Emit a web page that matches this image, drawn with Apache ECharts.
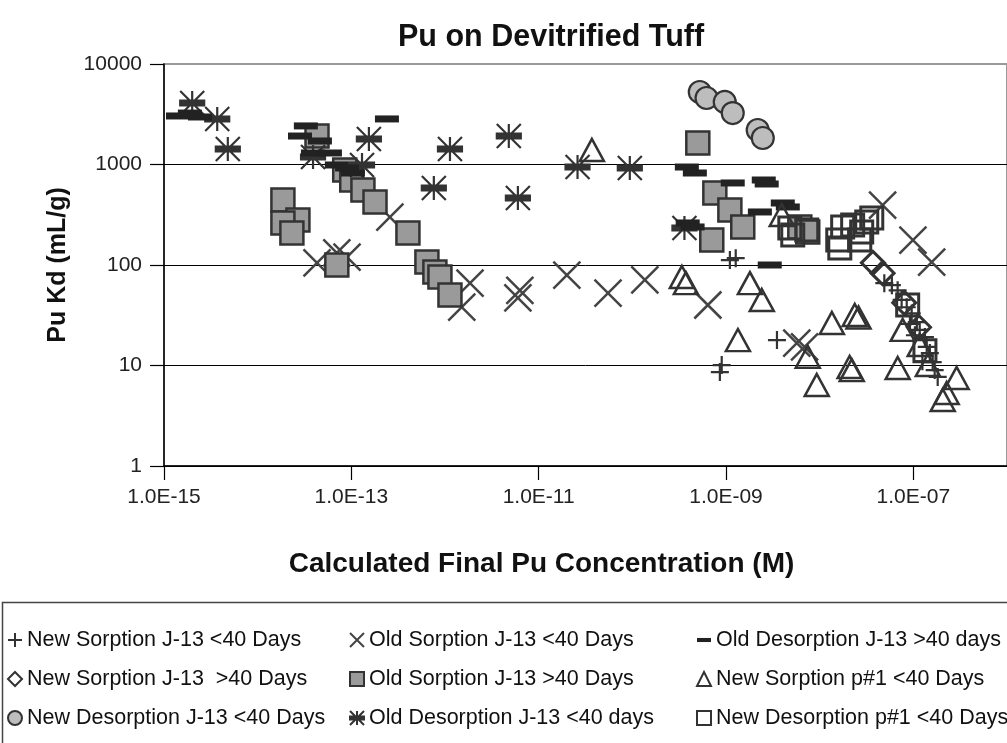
<!DOCTYPE html>
<html><head><meta charset="utf-8">
<script src="https://cdn.jsdelivr.net/npm/echarts@6/dist/echarts.min.js"></script>
<style>html,body{margin:0;padding:0;background:#fff}#c{width:1007px;height:743px}</style>
</head><body><div id="c"></div>
<script>
// ---- tick labels ----
const xTickLabels = ['1.0E-15', '1.0E-13', '1.0E-11', '1.0E-09', '1.0E-07'];
const yTickLabels = ['1', '10', '100', '1000', '10000'];

// ---- series names ----
const seriesNames = [
  'New Sorption J-13 <40 Days',
  'New Sorption J-13  >40 Days',
  'New Desorption J-13 <40 Days',
  'Old Sorption J-13 <40 Days',
  'Old Sorption J-13 >40 Days',
  'Old Desorption J-13 <40 days',
  'Old Desorption J-13 >40 days',
  'New Sorption p#1 <40 Days',
  'New Desorption p#1 <40 Days'
];

// ---- data [concentration M, Kd mL/g] ----
const newSorpJ13Lt40 = [[1.10e-9,112],[1.27e-9,117],[9.0e-10,10.1],[8.6e-10,8.6],[3.5e-9,17.9],[4.9e-8,66],[5.9e-8,63],[6.8e-8,56],[7.5e-8,45],[8.5e-8,38],[9.2e-8,26],[9.6e-8,33],[1.04e-7,20],[1.09e-7,27],[1.17e-7,22.6],[1.25e-7,11],[1.33e-7,19.2],[1.39e-7,15.3],[1.5e-7,13.3],[1.61e-7,10.8],[1.69e-7,9.0],[1.82e-7,7.7]];
const newSorpJ13Gt40 = [[3.7e-8,105],[4.7e-8,83],[8.0e-8,42],[1.15e-7,24]];
const newDesorpJ13Lt40 = [[5.25e-10,5265],[6.2e-10,4590],[9.7e-10,4190],[1.18e-9,3250],[2.18e-9,2205],[2.47e-9,1835]];
const oldSorpJ13Lt40 = [[4.3e-14,105],[7.0e-14,132],[9.0e-14,120],[2.58e-13,300],[1.85e-12,66],[1.51e-12,38],[6.3e-12,56],[6.0e-12,47],[2.0e-11,79.5],[5.5e-11,52.6],[1.36e-10,71],[6.4e-10,40],[4.7e-8,395],[9.9e-8,177],[1.57e-7,107],[5.7e-9,16.7],[6.9e-9,15.3]];
const oldSorpJ13Gt40 = [[1.86e-14,443],[2.69e-14,281],[1.86e-14,262],[2.32e-14,208],[7.0e-14,100],[4.3e-14,1920],[8.5e-14,880],[1.01e-13,701],[1.33e-13,558],[1.79e-13,424],[4.02e-13,208],[6.41e-13,107],[7.8e-13,85],[8.83e-13,76],[1.13e-12,50.3],[5.0e-10,1637],[7.6e-10,521],[1.1e-9,353],[1.51e-9,239],[7.05e-10,177],[6.14e-9,239],[7.46e-9,213]];
const oldDesorpJ13Lt40 = [[2.0e-15,4090],[3.7e-15,2840],[4.8e-15,1426],[3.9e-14,1188],[1.54e-13,1795],[1.30e-13,989],[1.13e-12,1426],[7.6e-13,584],[4.8e-12,1920],[6.0e-12,464],[2.6e-11,944],[9.4e-11,923],[3.6e-10,233]];
const oldDesorpJ13Gt40 = [[1.41e-15,3040],[1.89e-15,3250],[2.42e-15,2970],[2.4e-13,2840],[3.27e-14,2420],[2.83e-14,1920],[4.62e-14,1714],[3.89e-14,1302],[5.91e-14,1302],[7.0e-14,989],[9.0e-14,923],[1.04e-13,823],[3.82e-10,944],[4.65e-10,823],[1.18e-9,655],[2.53e-9,701],[2.72e-9,640],[4.04e-9,414],[4.57e-9,378],[2.3e-9,337],[3.9e-10,262],[4.4e-10,239],[2.93e-9,100]];
const newSorpP1Lt40 = [[3.7e-11,1394],[3.38e-10,76],[3.73e-10,66],[1.8e-9,66],[2.41e-9,44.8],[1.34e-9,17.9],[3.94e-9,314],[7.46e-9,12.2],[9.31e-9,6.4],[1.35e-8,26.5],[2.37e-8,31.8],[2.6e-8,30],[2.09e-8,9.66],[2.2e-8,9.0],[6.81e-8,9.44],[7.7e-8,22.6],[1.17e-7,16],[1.43e-7,10.1],[2.06e-7,4.54],[2.27e-7,5.33],[2.9e-7,7.51]];
const newDesorpP1Lt40 = [[4.8e-9,233],[5.16e-9,199],[7.28e-9,223],[1.56e-8,177],[1.64e-8,148],[1.76e-8,239],[2.25e-8,250],[2.68e-8,177],[2.81e-8,213],[3.18e-8,268],[3.6e-8,294],[8.7e-8,40],[1.33e-7,14]];

const FONT = 'Arial, "Liberation Sans", Helvetica, sans-serif';
const plusPath = 'path://M10 0L10 20M0 10L20 10';
const xPath = 'path://M0 0L20 20M20 0L0 20';
const starPath = 'path://M0 0L20 20M20 0L0 20M10 0L10 20M0 8L20 8L20 12L0 12Z';
const dashIcon = 'path://M0 0L24 0L24 7L0 7Z';

function mk(name, data, symbol, size, style) {
  return { name, type: 'scatter', xAxisIndex: 0, yAxisIndex: 0, data, symbol, symbolSize: size,
    symbolKeepAspect: true, itemStyle: Object.assign({ opacity: 1 }, style), emphasis: { disabled: true } };
}

const chart = echarts.init(document.getElementById('c'), null, { renderer: 'canvas' });
const legendText = { fontFamily: FONT, fontSize: 21.5, color: '#111', lineHeight: 24 };
const legendBase = { orient: 'vertical', top: 628, itemGap: 15, itemWidth: 14, itemHeight: 14, textStyle: legendText, selectedMode: false, padding: 0, symbolKeepAspect: true };

chart.setOption({
  animation: false,
  backgroundColor: '#fff',
  title: { text: 'Pu on Devitrified Tuff', left: 393, top: 17,
    textStyle: { fontFamily: FONT, fontSize: 30.5, fontWeight: 'bold', color: '#111' } },
  grid: { left: 164, right: 0, top: 64, bottom: 277, show: true, borderColor: '#999', borderWidth: 2 },
  xAxis: [
    { type: 'log', logBase: 10, min: 1e-15, max: 1e-6,
      axisLine: { show: false }, axisTick: { show: false }, axisLabel: { show: false }, splitLine: { show: false } },
    { type: 'value', min: 0, max: 9, interval: 2, position: 'bottom',
      axisLine: { show: true, onZero: false, lineStyle: { color: '#000', width: 1.5 } },
      axisTick: { show: true, length: 14, lineStyle: { color: '#000', width: 1.2 } },
      axisLabel: { formatter: v => (xTickLabels[v / 2] !== undefined ? xTickLabels[v / 2] : ''), showMaxLabel: false,
        margin: 21, fontSize: 21, color: '#222', fontFamily: FONT },
      splitLine: { show: false },
      name: 'Calculated Final Pu Concentration (M)', nameLocation: 'middle', nameGap: 84,
      nameTextStyle: { fontFamily: FONT, fontSize: 28, fontWeight: 'bold', color: '#111', padding: [0, 88, 0, 0] } }
  ],
  yAxis: { type: 'log', logBase: 10, min: 1, max: 10000, interval: 1,
    axisLine: { show: true, lineStyle: { color: '#000', width: 1.5 } },
    axisTick: { show: true, length: 14, lineStyle: { color: '#000', width: 1.2 } },
    axisLabel: { formatter: v => yTickLabels[Math.round(Math.log10(v))], margin: 22, fontSize: 21, color: '#222', fontFamily: FONT },
    splitLine: { show: true, lineStyle: { color: ['#000', '#000', '#000', '#000', '#999'], width: 1 } },
    name: 'Pu Kd (mL/g)', nameLocation: 'middle', nameGap: 93,
    nameTextStyle: { fontFamily: FONT, fontSize: 25, fontWeight: 'bold', color: '#111' } },
  legend: [
    Object.assign({ left: 7, data: [seriesNames[0], seriesNames[1], seriesNames[2]] }, legendBase),
    Object.assign({ left: 349, data: [seriesNames[3], seriesNames[4], seriesNames[5]] }, legendBase),
    Object.assign({ left: 696, data: [{ name: seriesNames[6], icon: dashIcon }, seriesNames[7], seriesNames[8]] }, legendBase)
  ],
  graphic: [{ type: 'rect', left: 0, top: 600, z: 0, silent: true,
    shape: { width: 1040, height: 200 }, style: { fill: 'none', stroke: '#444', lineWidth: 1.5 } }],
  series: [
    mk(seriesNames[0], newSorpJ13Lt40, plusPath, 18, { color: 'transparent', borderColor: '#333', borderWidth: 2.2 }),
    mk(seriesNames[1], newSorpJ13Gt40, 'diamond', 23, { color: 'transparent', borderColor: '#333', borderWidth: 3 }),
    mk(seriesNames[2], newDesorpJ13Lt40, 'circle', 22, { color: '#bdbdbd', borderColor: '#333', borderWidth: 2.2 }),
    mk(seriesNames[3], oldSorpJ13Lt40, xPath, 27, { color: 'transparent', borderColor: '#444', borderWidth: 2.5 }),
    mk(seriesNames[4], oldSorpJ13Gt40, 'rect', 23, { color: '#9a9a9a', borderColor: '#333', borderWidth: 2.5 }),
    mk(seriesNames[5], oldDesorpJ13Lt40, starPath, 24, { color: '#333', borderColor: '#333', borderWidth: 2.2 }),
    mk(seriesNames[6], oldDesorpJ13Gt40, 'rect', [24, 7], { color: '#222', borderWidth: 0 }),
    mk(seriesNames[7], newSorpP1Lt40, 'triangle', [24, 22], { color: 'transparent', borderColor: '#333', borderWidth: 2.5 }),
    mk(seriesNames[8], newDesorpP1Lt40, 'rect', 22, { color: 'transparent', borderColor: '#333', borderWidth: 3 })
  ]
});
</script></body></html>
